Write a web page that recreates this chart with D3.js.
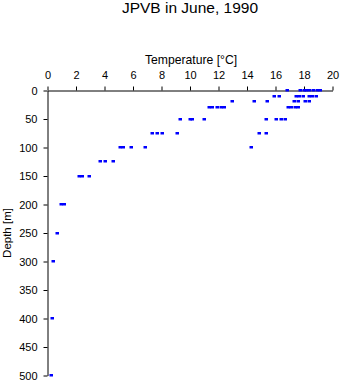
<!DOCTYPE html>
<html>
<head>
<meta charset="utf-8">
<script src="https://cdn.jsdelivr.net/npm/d3@7"></script>
<style>
  html, body { margin: 0; padding: 0; background: #fff; }
  svg { display: block; }
  text { font-family: "Liberation Sans", Arial, sans-serif; }
</style>
</head>
<body>
<svg id="chart" width="341" height="384"></svg>
<script>
const title = "JPVB in June, 1990";
const xLabel = "Temperature [\u00B0C]";
const yLabel = "Depth [m]";
const xTicks = [0, 2, 4, 6, 8, 10, 12, 14, 16, 18, 20];
const yTicks = [0, 50, 100, 150, 200, 250, 300, 350, 400, 450, 500];

const depths = [
  0, 0, 0, 0, 0, 0, 0, 0,
  10, 10, 10, 10, 10, 10, 10, 10,
  20, 20, 20, 20, 20, 20, 20,
  30, 30, 30, 30, 30, 30, 30, 30, 30,
  50, 50, 50, 50, 50, 50, 50, 50,
  75, 75, 75, 75, 75, 75,
  100, 100, 100, 100, 100,
  125, 125, 125,
  150, 150, 150,
  200, 200,
  250, 300, 400, 500
];
const temps = [
  16.85, 17.75, 18.0, 18.2, 18.4, 18.65, 18.95, 19.15,
  15.95, 16.3, 17.5, 17.7, 17.95, 18.4, 18.6, 18.85,
  12.97, 14.55, 15.45, 17.3, 17.62, 18.13, 18.38,
  11.4, 11.6, 11.95, 12.2, 12.45, 16.9, 17.15, 17.4, 17.62,
  9.33, 10.0, 10.2, 11.05, 15.35, 16.1, 16.4, 16.7,
  7.4, 7.72, 8.05, 9.15, 14.88, 15.37,
  5.1, 5.35, 5.92, 6.88, 14.34,
  3.7, 4.07, 4.6,
  2.25, 2.45, 2.95,
  1.0, 1.2,
  0.7, 0.45, 0.35, 0.25
];

const svg = d3.select("#chart");
const x = d3.scaleLinear().domain([0, 20]).range([47, 332]);
const y = d3.scaleLinear().domain([0, 500]).range([90, 375]);

svg.append("text")
  .attr("x", 190).attr("y", 13)
  .attr("text-anchor", "middle")
  .attr("font-size", 15.5)
  .text(title);

svg.append("text")
  .attr("x", 191).attr("y", 64)
  .attr("text-anchor", "middle")
  .attr("font-size", 12.2)
  .text(xLabel);

svg.append("text")
  .attr("transform", "translate(11,233) rotate(-90)")
  .attr("text-anchor", "middle")
  .attr("font-size", 11.5)
  .text(yLabel);

const gx = svg.append("g")
  .attr("transform", "translate(0.5,90.5)")
  .call(d3.axisTop(x).tickValues(xTicks).tickSize(4).tickSizeOuter(0).tickPadding(8));
const gy = svg.append("g")
  .attr("transform", "translate(47.5,0.5)")
  .call(d3.axisLeft(y).tickValues(yTicks).tickSize(4).tickSizeOuter(0).tickPadding(6));

[gx, gy].forEach(g => {
  g.selectAll("text").attr("font-size", 11).attr("fill", "#000")
    .attr("font-family", "'Liberation Sans', Arial, sans-serif");
  g.selectAll("line").attr("stroke", "#000");
  g.select(".domain").attr("stroke", "#000");
});

const pts = depths.map((d, i) => ({ depth: d, temp: temps[i] }));
svg.append("g").selectAll("rect")
  .data(pts)
  .join("rect")
  .attr("x", d => Math.round(x(d.temp)) - 1.5)
  .attr("y", d => Math.round(y(d.depth)) - 1)
  .attr("width", 3.5)
  .attr("height", 2.5)
  .attr("fill", "#0000ff");
</script>
</body>
</html>
